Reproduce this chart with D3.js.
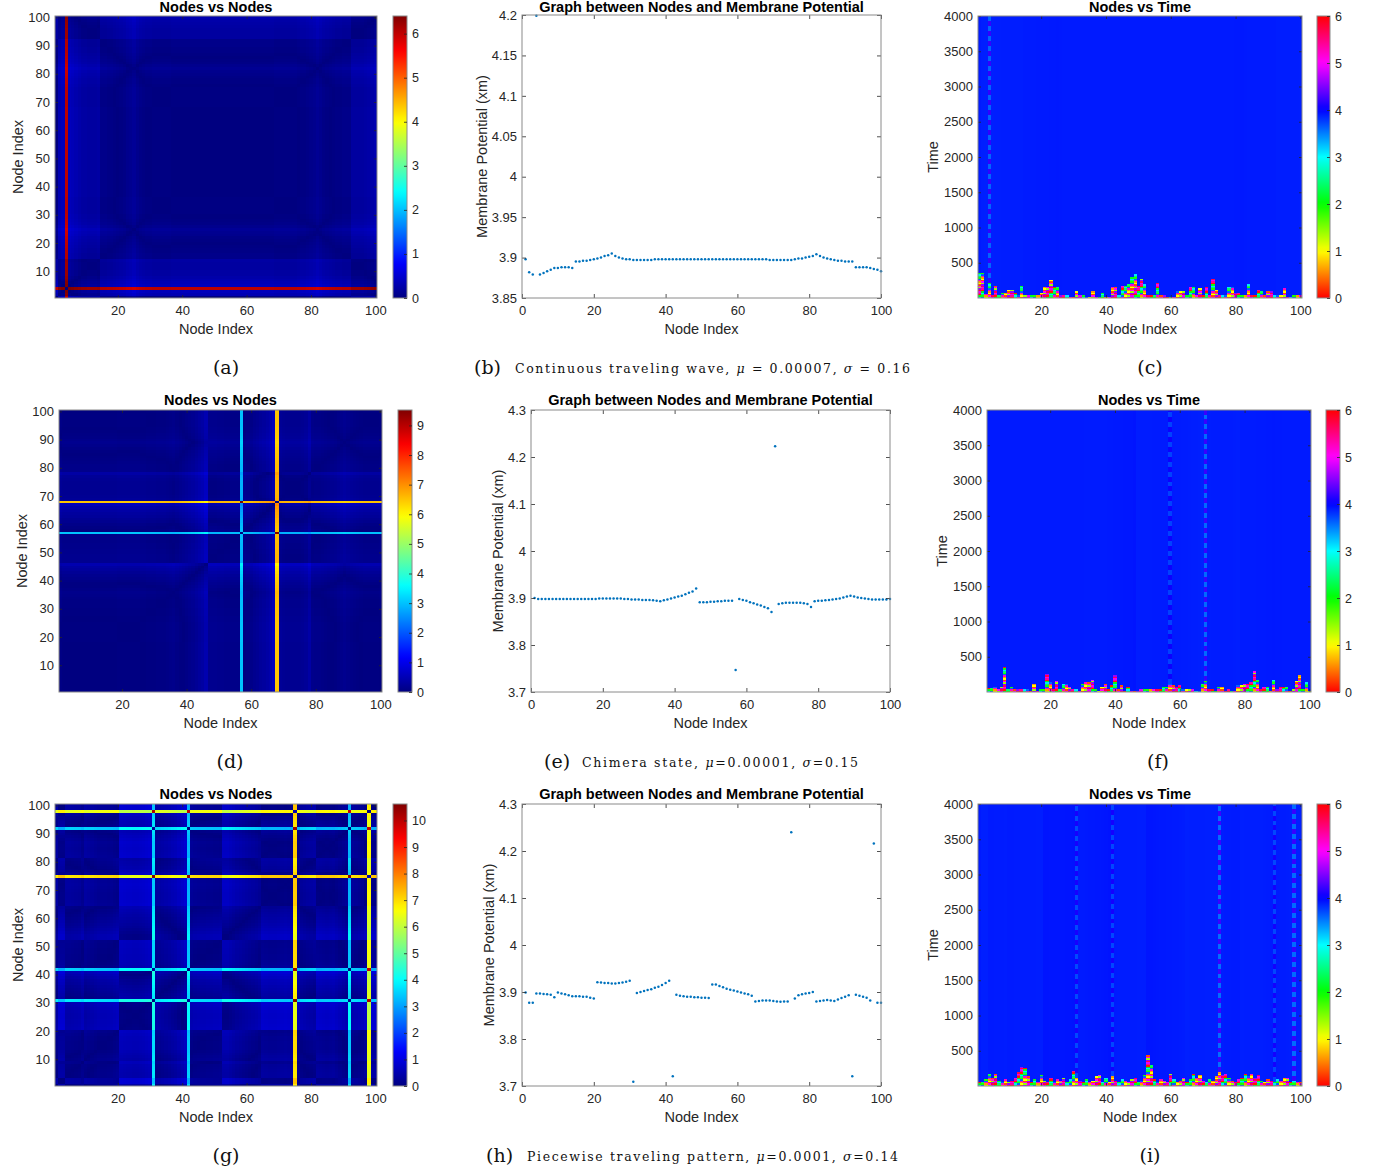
<!DOCTYPE html>
<html>
<head>
<meta charset="utf-8">
<script src="https://cdn.jsdelivr.net/npm/d3@7"></script>
<style>
  body { margin: 0; background: #fff; }
  svg text { font-family: "Liberation Sans", Arial, Helvetica, sans-serif; }
</style>
</head>
<body>
<svg id="fig" width="1379" height="1173"></svg>
<script>
// ---------------- data ----------------
// Final membrane potential xm of each of the 100 nodes
const potentialB = [
  3.898, 3.882, 3.879, 4.199, 3.879, 3.881, 3.883, 3.885, 3.887, 3.887,
  3.888, 3.888, 3.888, 3.887, 3.895, 3.895, 3.896, 3.896, 3.897, 3.898,
  3.899, 3.900, 3.902, 3.903, 3.905, 3.902, 3.900, 3.899, 3.898, 3.898,
  3.897, 3.897, 3.897, 3.897, 3.897, 3.897, 3.898, 3.898, 3.898, 3.898,
  3.898, 3.898, 3.898, 3.898, 3.898, 3.898, 3.898, 3.898, 3.898, 3.898,
  3.898, 3.898, 3.898, 3.898, 3.898, 3.898, 3.898, 3.898, 3.898, 3.898,
  3.898, 3.898, 3.898, 3.898, 3.898, 3.898, 3.898, 3.898, 3.897, 3.897,
  3.897, 3.897, 3.897, 3.897, 3.897, 3.898, 3.899, 3.899, 3.900, 3.901,
  3.902, 3.904, 3.902, 3.900, 3.899, 3.898, 3.897, 3.896, 3.896, 3.895,
  3.895, 3.895, 3.888, 3.888, 3.888, 3.888, 3.887, 3.886, 3.885, 3.883
];
const potentialE = [
  3.900, 3.898, 3.898, 3.898, 3.898, 3.898, 3.898, 3.898, 3.898, 3.898,
  3.898, 3.898, 3.898, 3.898, 3.898, 3.898, 3.898, 3.898, 3.899, 3.899,
  3.899, 3.899, 3.899, 3.899, 3.899, 3.898, 3.898, 3.897, 3.897, 3.897,
  3.896, 3.896, 3.896, 3.895, 3.894, 3.893, 3.895, 3.897, 3.899, 3.901,
  3.903, 3.905, 3.908, 3.911, 3.914, 3.920, 3.891, 3.891, 3.891, 3.892,
  3.892, 3.893, 3.893, 3.894, 3.894, 3.894, 3.747, 3.898, 3.896, 3.894,
  3.891, 3.889, 3.886, 3.884, 3.881, 3.878, 3.870, 4.223, 3.887, 3.889,
  3.890, 3.890, 3.890, 3.890, 3.890, 3.889, 3.887, 3.881, 3.893, 3.894,
  3.894, 3.895, 3.896, 3.897, 3.898, 3.899, 3.901, 3.903, 3.905, 3.903,
  3.901, 3.900, 3.899, 3.898, 3.897, 3.897, 3.897, 3.897, 3.897, 3.898
];
const potentialH = [
  3.899, 3.877, 3.877, 3.897, 3.897, 3.896, 3.895, 3.894, 3.889, 3.899,
  3.897, 3.895, 3.893, 3.891, 3.891, 3.891, 3.890, 3.890, 3.888, 3.886,
  3.921, 3.920, 3.919, 3.919, 3.918, 3.918, 3.919, 3.920, 3.922, 3.924,
  3.709, 3.898, 3.900, 3.902, 3.904, 3.906, 3.909, 3.911, 3.915, 3.919,
  3.924, 3.721, 3.894, 3.892, 3.891, 3.890, 3.890, 3.889, 3.889, 3.888,
  3.888, 3.887, 3.916, 3.916, 3.913, 3.910, 3.907, 3.905, 3.903, 3.901,
  3.899, 3.897, 3.895, 3.892, 3.880, 3.881, 3.882, 3.882, 3.882, 3.881,
  3.880, 3.879, 3.880, 3.880, 4.240, 3.886, 3.893, 3.895, 3.897, 3.898,
  3.900, 3.880, 3.881, 3.882, 3.883, 3.882, 3.881, 3.884, 3.887, 3.890,
  3.893, 3.721, 3.894, 3.892, 3.890, 3.888, 3.882, 4.216, 3.877, 3.877
];

// Duration of the initial transient of each node (time units)
const transientC = [
  354, 354, 60, 212, 40, 175, 40, 70, 70, 127,
  127, 70, 40, 175, 47, 47, 40, 47, 40, 70,
  155, 155, 250, 155, 155, 33, 30, 33, 25, 25,
  108, 47, 47, 25, 25, 94, 25, 25, 70, 20,
  25, 165, 165, 33, 180, 180, 190, 307, 340, 170,
  283, 190, 47, 47, 40, 227, 47, 40, 25, 25,
  25, 94, 94, 94, 47, 155, 155, 47, 142, 47,
  155, 47, 283, 118, 33, 33, 33, 155, 155, 70,
  70, 47, 47, 198, 33, 33, 118, 94, 47, 94,
  94, 33, 33, 33, 142, 25, 25, 47, 47, 47
];
const transientF = [
  56, 56, 80, 47, 80, 362, 47, 80, 47, 33,
  33, 33, 33, 23, 127, 23, 33, 47, 250, 141,
  47, 150, 47, 117, 127, 80, 33, 47, 23, 117,
  141, 141, 174, 47, 23, 80, 127, 47, 94, 235,
  47, 94, 23, 80, 15, 23, 15, 47, 47, 47,
  47, 47, 33, 33, 70, 80, 117, 94, 70, 94,
  33, 47, 47, 47, 23, 23, 117, 150, 47, 47,
  23, 70, 70, 23, 47, 23, 15, 94, 94, 117,
  117, 141, 305, 174, 47, 70, 70, 23, 174, 33,
  70, 70, 70, 23, 47, 165, 235, 33, 141, 23
];
const transientI = [
  60, 60, 90, 180, 120, 180, 80, 60, 100, 60,
  80, 120, 200, 280, 260, 140, 60, 90, 60, 150,
  80, 60, 110, 60, 90, 70, 120, 60, 90, 225,
  120, 80, 60, 100, 60, 80, 140, 150, 60, 110,
  60, 130, 80, 60, 100, 70, 60, 90, 120, 60,
  80, 160, 440, 300, 90, 60, 100, 80, 60, 180,
  90, 60, 80, 110, 60, 90, 180, 120, 160, 80,
  60, 100, 80, 140, 200, 150, 180, 120, 80, 60,
  90, 110, 170, 140, 180, 120, 160, 80, 60, 100,
  80, 60, 90, 70, 110, 120, 60, 80, 60, 50
];

// Nodes that keep alternating after the transient, and the second value they visit
const spikesC = [4];
const altC = [3.60];
const spikesF = [57, 68];
const altF = [4.05, 3.58];
const spikesI = [31, 42, 75, 92, 98];
const altI = [4.09, 4.08, 3.56, 4.08, 3.58];

// Values visited in turn during the transient (hsv colour scale, 0..6)
const phaseCycle = [5.4, 1.9, 0.3, 4.9, 2.4, 1.0, 5.7, 3.1, 0.6, 4.6, 2.1, 5.2, 1.4, 0.1, 3.6, 5.0];

// Gain applied to |xm_i - xm_j| in the node-vs-node maps
const DIFF_GAIN = 20;

// tick labels
const ticksNodeX = [20, 40, 60, 80, 100];
const ticksNodeY = [10, 20, 30, 40, 50, 60, 70, 80, 90, 100];
const ticksScatterX = [0, 20, 40, 60, 80, 100];
const ticksPotB = [3.85, 3.9, 3.95, 4, 4.05, 4.1, 4.15, 4.2];
const ticksPotEH = [3.7, 3.8, 3.9, 4, 4.1, 4.2, 4.3];
const ticksTime = [500, 1000, 1500, 2000, 2500, 3000, 3500, 4000];
const ticksPhase = [0, 1, 2, 3, 4, 5, 6];

// texts
const titleHeat = 'Nodes vs Nodes';
const titleScatter = 'Graph between Nodes and Membrane Potential';
const titleTime = 'Nodes vs Time';
const labelNode = 'Node Index';
const labelPot = 'Membrane Potential (xm)';
const labelTime = 'Time';
const captionTexts = {
  b: ['Continuous traveling wave, ', 'μ', ' = 0.00007, ', 'σ', ' = 0.16'],
  e: ['Chimera state, ', 'μ', '=0.00001, ', 'σ', '=0.15'],
  h: ['Piecewise traveling pattern, ', 'μ', '=0.0001, ', 'σ', '=0.14']
};

// ---------------- drawing ----------------
const svg = d3.select('#fig');
const INK = '#262626';
const BOX = '#8a8a8a';
const BLUE = '#0072BD';
const SERIF = '"DejaVu Serif", "Liberation Serif", serif';
const fmtNum = d => String(d);

function jetScale(vmax) {
  const stops = [0, 0.125, 0.375, 0.625, 0.875, 1];
  const cols = ['#000080', '#0000ff', '#00ffff', '#ffff00', '#ff0000', '#800000'];
  return d3.scaleLinear().domain(stops.map(s => s * vmax)).range(cols)
    .interpolate(d3.interpolateRgb).clamp(true);
}
const hueOf = d3.scaleLinear().domain([0, 6]).range([0, 360]).clamp(true);
const hsvColor = v => d3.hsl(hueOf(v), 1, 0.5).formatRgb();

function frame(p, x, y, xTicks, yTicks, tickLen) {
  const g = svg.append('g');
  const styleAxis = sel => {
    sel.select('.domain').remove();
    sel.selectAll('line').attr('stroke', INK).attr('stroke-width', 0.8);
    sel.selectAll('text').attr('fill', INK).attr('font-size', 13);
    sel.attr('font-family', null);
  };
  g.append('g').attr('transform', `translate(0,${p.b})`)
    .call(d3.axisBottom(x).tickValues(xTicks).tickFormat(fmtNum).tickSizeInner(-tickLen).tickSizeOuter(0).tickPadding(8))
    .call(styleAxis);
  g.append('g').attr('transform', `translate(0,${p.t})`)
    .call(d3.axisTop(x).tickValues(xTicks).tickFormat('').tickSizeInner(-tickLen).tickSizeOuter(0))
    .call(styleAxis);
  g.append('g').attr('transform', `translate(${p.l},0)`)
    .call(d3.axisLeft(y).tickValues(yTicks).tickFormat(fmtNum).tickSizeInner(-tickLen).tickSizeOuter(0).tickPadding(5))
    .call(styleAxis);
  g.append('g').attr('transform', `translate(${p.r},0)`)
    .call(d3.axisRight(y).tickValues(yTicks).tickFormat('').tickSizeInner(-tickLen).tickSizeOuter(0))
    .call(styleAxis);
  g.append('rect').attr('x', p.l).attr('y', p.t).attr('width', p.r - p.l).attr('height', p.b - p.t)
    .attr('fill', 'none').attr('stroke', BOX).attr('stroke-width', 1);
}

function labels(p, title, xlab, ylab, ylabX) {
  svg.append('text').attr('x', (p.l + p.r) / 2).attr('y', Math.max(p.t - 5, 12))
    .attr('text-anchor', 'middle').attr('font-size', 14.5).attr('font-weight', 'bold')
    .attr('fill', '#000').text(title);
  svg.append('text').attr('x', (p.l + p.r) / 2).attr('y', p.b + 36)
    .attr('text-anchor', 'middle').attr('font-size', 14.5).attr('fill', INK).text(xlab);
  svg.append('text').attr('transform', `translate(${ylabX + 5},${(p.t + p.b) / 2}) rotate(-90)`)
    .attr('text-anchor', 'middle').attr('font-size', 14.5).attr('fill', INK).text(ylab);
}

function colorbar(cb, p, scale, domainMax, ticks, id) {
  const y = d3.scaleLinear().domain([0, domainMax]).range([p.b, p.t]);
  const grad = svg.append('defs').append('linearGradient').attr('id', id)
    .attr('x1', 0).attr('y1', 1).attr('x2', 0).attr('y2', 0);
  d3.range(0, 1.0001, 0.02).forEach(f => {
    grad.append('stop').attr('offset', f).attr('stop-color', scale(f * domainMax));
  });
  svg.append('rect').attr('x', cb.l).attr('y', p.t).attr('width', cb.r - cb.l).attr('height', p.b - p.t)
    .attr('fill', `url(#${id})`).attr('stroke', BOX).attr('stroke-width', 1);
  const g = svg.append('g').attr('transform', `translate(${cb.r},0)`)
    .call(d3.axisRight(y).tickValues(ticks).tickFormat(fmtNum).tickSizeInner(-3).tickSizeOuter(0).tickPadding(5));
  g.select('.domain').remove();
  g.selectAll('line').attr('stroke', INK).attr('stroke-width', 0.8);
  g.selectAll('text').attr('fill', INK).attr('font-size', 12.5);
  g.attr('font-family', null);
}

function heatPanel(p, cb, pot, ylabX, id) {
  const x = d3.scaleLinear().domain([0.5, 100.5]).range([p.l, p.r]);
  const y = d3.scaleLinear().domain([0.5, 100.5]).range([p.b, p.t]);
  const cells = [];
  pot.forEach((vi, i) => pot.forEach((vj, j) => {
    cells.push({ i: i + 1, j: j + 1, v: Math.abs(vi - vj) * DIFF_GAIN });
  }));
  const vmax = d3.max(cells, d => d.v);
  const color = jetScale(vmax);
  const cw = x(1.5) - x(0.5), ch = y(0.5) - y(1.5);
  svg.append('g').attr('shape-rendering', 'crispEdges')
    .selectAll('rect').data(cells).join('rect')
    .attr('x', d => x(d.i - 0.5)).attr('y', d => y(d.j + 0.5))
    .attr('width', cw + 0.4).attr('height', ch + 0.4)
    .attr('fill', d => color(d.v));
  frame(p, x, y, ticksNodeX, ticksNodeY, 3);
  labels(p, titleHeat, labelNode, labelNode, ylabX);
  colorbar(cb, p, color, vmax, d3.range(0, Math.floor(vmax) + 1), id);
}

function scatterPanel(p, pot, yDomain, yTicks, ylabX) {
  const x = d3.scaleLinear().domain([0, 100]).range([p.l, p.r]);
  const y = d3.scaleLinear().domain(yDomain).range([p.b, p.t]);
  svg.append('rect').attr('x', p.l).attr('y', p.t).attr('width', p.r - p.l).attr('height', p.b - p.t)
    .attr('fill', '#fff');
  svg.append('g').selectAll('circle').data(pot).join('circle')
    .attr('cx', (d, i) => x(i + 1)).attr('cy', d => y(d)).attr('r', 1.25).attr('fill', BLUE);
  frame(p, x, y, ticksScatterX, yTicks, 4);
  labels(p, titleScatter, labelNode, labelPot, ylabX);
}

function timePanel(p, cb, pot, trans, spikes, alts, ylabX, id) {
  const TMAX = 4000, ROW = 20, DASH = 70;
  const x = d3.scaleLinear().domain([0.5, 100.5]).range([p.l, p.r]);
  const y = d3.scaleLinear().domain([0, TMAX]).range([p.b, p.t]);
  const cells = [];
  pot.forEach((v, k) => {
    const node = k + 1;
    const h = Math.max(ROW, Math.round(trans[k] / ROW) * ROW);
    for (let t0 = 0, r = 0; t0 < h; t0 += ROW, r++) {
      cells.push({ node, t0, t1: t0 + ROW, v: phaseCycle[(r * 3 + node * 7) % phaseCycle.length] });
    }
    const s = spikes.indexOf(node);
    if (s >= 0) {
      for (let t0 = h, n = 0; t0 < TMAX; t0 += DASH, n++) {
        cells.push({ node, t0, t1: Math.min(TMAX, t0 + DASH), v: n % 2 ? alts[s] : v });
      }
    } else {
      cells.push({ node, t0: h, t1: TMAX, v });
    }
  });
  const cw = x(1.5) - x(0.5);
  svg.append('g').attr('shape-rendering', 'crispEdges')
    .selectAll('rect').data(cells).join('rect')
    .attr('x', d => x(d.node - 0.5)).attr('y', d => y(d.t1))
    .attr('width', cw + 0.4).attr('height', d => y(d.t0) - y(d.t1) + 0.3)
    .attr('fill', d => hsvColor(d.v));
  frame(p, x, y, ticksNodeX, ticksTime, 3);
  labels(p, titleTime, labelNode, labelTime, ylabX);
  colorbar(cb, p, hsvColor, 6, ticksPhase, id);
}

function caption(letter, cx, base, parts, textStart, textLen) {
  const lab = svg.append('text').attr('x', cx).attr('y', base)
    .style('font-family', SERIF).attr('font-size', 19).attr('fill', '#111').text(letter);
  if (!parts) { lab.attr('text-anchor', 'middle'); return; }
  const t = svg.append('text').attr('x', textStart).attr('y', base - 1)
    .style('font-family', SERIF).attr('font-size', 12.5).attr('fill', '#111')
    .attr('textLength', textLen).attr('lengthAdjust', 'spacing');
  parts.forEach((s, i) => {
    t.append('tspan').attr('font-style', i % 2 ? 'italic' : 'normal').text(s);
  });
}

// row 1
heatPanel({ l: 55, r: 377, t: 16, b: 298 }, { l: 393, r: 407 }, potentialB, 18, 'cbA');
scatterPanel({ l: 522, r: 881, t: 15, b: 298 }, potentialB, [3.85, 4.2], ticksPotB, 482);
timePanel({ l: 978, r: 1302, t: 16, b: 298 }, { l: 1317, r: 1330 }, potentialB, transientC, spikesC, altC, 933, 'cbC');
// row 2
heatPanel({ l: 59, r: 382, t: 410, b: 692 }, { l: 398, r: 412 }, potentialE, 22, 'cbD');
scatterPanel({ l: 531, r: 890, t: 410, b: 692 }, potentialE, [3.7, 4.3], ticksPotEH, 498);
timePanel({ l: 987, r: 1311, t: 410, b: 692 }, { l: 1326, r: 1340 }, potentialE, transientF, spikesF, altF, 942, 'cbF');
// row 3
heatPanel({ l: 55, r: 377, t: 804, b: 1086 }, { l: 393, r: 407 }, potentialH, 18, 'cbG');
scatterPanel({ l: 522, r: 881, t: 804, b: 1086 }, potentialH, [3.7, 4.3], ticksPotEH, 489);
timePanel({ l: 978, r: 1302, t: 804, b: 1086 }, { l: 1317, r: 1330 }, potentialH, transientI, spikesI, altI, 933, 'cbI');

// captions
caption('(a)', 226, 374);
caption('(b)', 474, 374, captionTexts.b, 515, 395);
caption('(c)', 1150, 374);
caption('(d)', 230, 768);
caption('(e)', 544, 768, captionTexts.e, 582, 276);
caption('(f)', 1158, 768);
caption('(g)', 226, 1162);
caption('(h)', 486, 1162, captionTexts.h, 527, 371);
caption('(i)', 1150, 1162);
</script>
</body>
</html>
